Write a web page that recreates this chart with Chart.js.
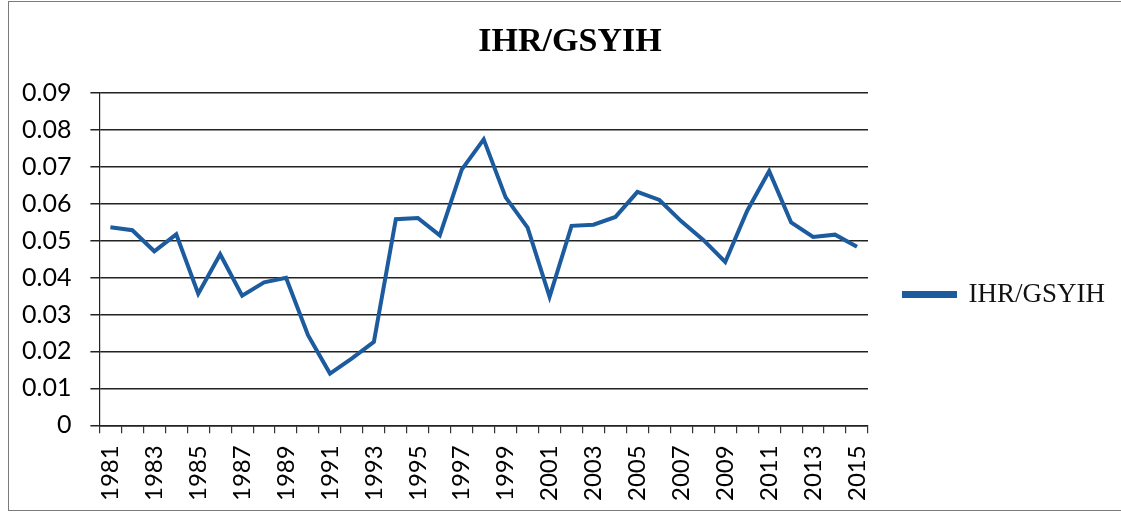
<!DOCTYPE html>
<html>
<head>
<meta charset="utf-8">
<script src="https://cdn.jsdelivr.net/npm/chart.js@4"></script>
<style>
  html, body { margin: 0; padding: 0; background: #fff; overflow: hidden; }
  #wrap { position: relative; width: 1121px; height: 516px; }
  #frame { position: absolute; left: 8px; top: 1px; width: 1130px; height: 508px; border: 1px solid #7a7a7a; pointer-events: none; }
  canvas { position: absolute; left: 0; top: 0; }
</style>
</head>
<body>
<div id="wrap">
  <canvas id="grafico" width="1121" height="516"></canvas>
  <div id="frame"></div>
</div>
<script>
// Años (eje X)
const years = ['1981','1982','1983','1984','1985','1986','1987','1988','1989','1990',
               '1991','1992','1993','1994','1995','1996','1997','1998','1999','2000',
               '2001','2002','2003','2004','2005','2006','2007','2008','2009','2010',
               '2011','2012','2013','2014','2015'];

// Serie IHR/GSYIH
const ihrGsyih = [0.0536, 0.0528, 0.0471, 0.0517, 0.0356, 0.0463, 0.0351, 0.0387, 0.0399, 0.0244,
                  0.0140, 0.0181, 0.0226, 0.0558, 0.0561, 0.0514, 0.0692, 0.0774, 0.0617, 0.0535,
                  0.0348, 0.0540, 0.0543, 0.0564, 0.0632, 0.0610, 0.0552, 0.0502, 0.0442, 0.0581,
                  0.0688, 0.0549, 0.0510, 0.0516, 0.0483];

// Marcas del eje Y
const yTicks = [0, 0.01, 0.02, 0.03, 0.04, 0.05, 0.06, 0.07, 0.08, 0.09];

const lineColor = '#1d5b9f';

// Ajusta la posición del título y la leyenda (como en el original de Excel)
const boxShift = {
    id: 'boxShift',
    afterLayout(chart) {
        if (chart.legend) {
            chart.legend.top += 38;
            chart.legend.bottom += 38;
        }
        if (chart.titleBlock) {
            chart.titleBlock.left += 11;
            chart.titleBlock.right += 11;
        }
    }
};

new Chart(document.getElementById('grafico').getContext('2d'), {
    type: 'line',
    data: {
        labels: years,
        datasets: [{
            label: 'IHR/GSYIH',
            data: ihrGsyih,
            borderColor: lineColor,
            backgroundColor: lineColor,
            borderWidth: 4,
            pointRadius: 0,
            tension: 0
        }]
    },
    options: {
        responsive: false,
        animation: false,
        layout: { padding: { left: 3, right: 6, top: 0, bottom: 3 } },
        plugins: {
            title: {
                display: true,
                text: 'IHR/GSYIH',
                color: '#000',
                font: { family: '"Liberation Serif", "Times New Roman", serif', size: 34, weight: 'bold' },
                padding: { top: 22, bottom: 30 }
            },
            legend: {
                position: 'right',
                labels: {
                    color: '#111',
                    boxWidth: 51,
                    boxHeight: 3,
                    padding: 36,
                    font: { family: '"Liberation Serif", "Times New Roman", serif', size: 27 }
                }
            },
            tooltip: { enabled: false }
        },
        scales: {
            x: {
                offset: true,
                grid: {
                    offset: true,
                    drawOnChartArea: false,
                    drawTicks: true,
                    tickLength: 8,
                    color: '#333',
                    lineWidth: 1.2
                },
                border: { color: '#222', width: 1.5 },
                ticks: {
                    autoSkip: false,
                    minRotation: 90,
                    maxRotation: 90,
                    padding: 12,
                    color: '#000',
                    font: { family: 'Lato, "Open Sans", sans-serif', size: 24 },
                    callback: function (value, index) {
                        return index % 2 === 0 ? years[index] : '';
                    }
                }
            },
            y: {
                min: yTicks[0],
                max: yTicks[yTicks.length - 1],
                afterBuildTicks: function (axis) {
                    axis.ticks = yTicks.map(v => ({ value: v }));
                },
                grid: {
                    color: '#222',
                    lineWidth: 1.5,
                    tickLength: 9
                },
                border: { color: '#222', width: 1.2 },
                ticks: {
                    padding: 19,
                    color: '#000',
                    font: { family: 'Lato, "Open Sans", sans-serif', size: 25 },
                    callback: function (value) {
                        return value === 0 ? '0' : value.toFixed(2);
                    }
                }
            }
        }
    },
    plugins: [boxShift]
});
</script>
</body>
</html>
